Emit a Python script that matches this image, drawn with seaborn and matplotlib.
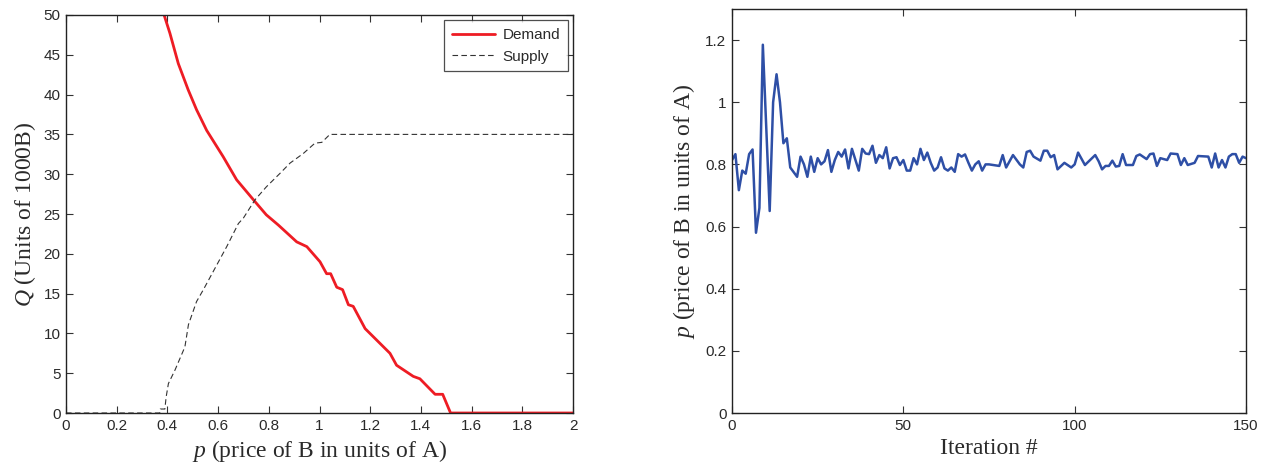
import matplotlib
matplotlib.use("Agg")
import matplotlib.pyplot as plt
import seaborn as sns
import pandas as pd

# ---- data: left panel (market curves) ----
demand_p = [0.387, 0.41, 0.443, 0.482, 0.515, 0.555, 0.62, 0.673, 0.739, 0.79, 0.838,
            0.91, 0.95, 1.002, 1.028, 1.044, 1.068, 1.091, 1.114, 1.133, 1.18, 1.278,
            1.304, 1.37, 1.396, 1.456, 1.486, 1.517, 2.0]
demand_q = [50, 47.7, 43.9, 40.6, 38.1, 35.5, 32.2, 29.3, 26.8, 24.9, 23.6,
            21.5, 20.9, 19.0, 17.5, 17.5, 15.8, 15.5, 13.6, 13.4, 10.6, 7.5,
            6.0, 4.6, 4.3, 2.35, 2.35, 0, 0]
supply_p = [0.0, 0.37, 0.372, 0.39, 0.395, 0.404, 0.43, 0.469, 0.483, 0.515, 0.542,
            0.588, 0.634, 0.68, 0.70, 0.746, 0.79, 0.844, 0.884, 0.936, 0.982, 1.009,
            1.041, 2.0]
supply_q = [0, 0, 0.5, 0.5, 2.0, 3.7, 5.4, 8.3, 11.1, 14.0, 15.5,
            18.2, 20.9, 23.8, 24.5, 26.8, 28.4, 30.1, 31.4, 32.6, 33.9, 34.0,
            35.0, 35.0]

# ---- data: right panel (price over iterations) ----
iters = [0, 1, 2, 3, 4, 5, 6, 7, 8, 9, 11, 12, 13, 14, 15, 16, 17, 19, 20, 21, 22, 23,
         24, 25, 26, 27, 28, 29, 30, 31, 32, 33, 34, 35, 37, 38, 39, 40, 41, 42, 43,
         44, 45, 46, 47, 48, 49, 50, 51, 52, 53, 54, 55, 56, 57, 58, 59, 60, 61, 62,
         63, 64, 65, 66, 67, 68, 69, 70, 71, 72, 73, 74, 75, 78, 79, 80, 82, 84, 85,
         86, 87, 88, 90, 91, 92, 93, 94, 95, 97, 99, 100, 101, 103, 106, 107, 108,
         109, 110, 111, 112, 113, 114, 115, 117, 118, 119, 121, 122, 123, 124, 125,
         127, 128, 130, 131, 132, 133, 135, 136, 139, 140, 141, 142, 143, 144, 145,
         146, 147, 148, 149, 150]
prices = [0.814, 0.833, 0.717, 0.78, 0.77, 0.833, 0.848, 0.58, 0.66, 1.185, 0.65, 1.0,
          1.09, 1.0, 0.868, 0.884, 0.79, 0.76, 0.825, 0.80, 0.76, 0.825, 0.776, 0.82,
          0.80, 0.81, 0.846, 0.776, 0.814, 0.84, 0.825, 0.848, 0.787, 0.85, 0.78, 0.85,
          0.835, 0.833, 0.86, 0.805, 0.83, 0.82, 0.855, 0.787, 0.82, 0.823, 0.798,
          0.814, 0.78, 0.78, 0.82, 0.80, 0.85, 0.814, 0.838, 0.805, 0.78, 0.79, 0.823,
          0.787, 0.78, 0.79, 0.776, 0.833, 0.825, 0.832, 0.805, 0.78, 0.80, 0.81, 0.78,
          0.80, 0.80, 0.795, 0.83, 0.79, 0.83, 0.80, 0.79, 0.84, 0.844, 0.825, 0.812,
          0.844, 0.844, 0.823, 0.83, 0.784, 0.805, 0.79, 0.80, 0.838, 0.798, 0.83,
          0.81, 0.784, 0.795, 0.795, 0.812, 0.793, 0.795, 0.833, 0.798, 0.798, 0.827,
          0.832, 0.817, 0.833, 0.835, 0.795, 0.82, 0.814, 0.835, 0.833, 0.798, 0.82,
          0.798, 0.805, 0.827, 0.825, 0.79, 0.835, 0.79, 0.814, 0.79, 0.825, 0.833,
          0.833, 0.805, 0.825, 0.82]

x_ticks_left = [0, 0.2, 0.4, 0.6, 0.8, 1, 1.2, 1.4, 1.6, 1.8, 2]
x_ticklabels_left = ["0", "0.2", "0.4", "0.6", "0.8", "1", "1.2", "1.4", "1.6", "1.8", "2"]
y_ticks_left = [0, 5, 10, 15, 20, 25, 30, 35, 40, 45, 50]
x_ticks_right = [0, 50, 100, 150]
y_ticks_right = [0, 0.2, 0.4, 0.6, 0.8, 1.0, 1.2]
y_ticklabels_right = ["0", "0.2", "0.4", "0.6", "0.8", "1", "1.2"]

TXT = "#2a2a2a"

sns.set_style("ticks")
plt.rcParams["font.family"] = ["Liberation Sans", "DejaVu Sans"]
plt.rcParams["xtick.direction"] = "in"
plt.rcParams["ytick.direction"] = "in"
plt.rcParams["mathtext.fontset"] = "custom"
plt.rcParams["mathtext.it"] = "Liberation Serif:italic"
plt.rcParams["mathtext.rm"] = "Liberation Serif"

fig = plt.figure(figsize=(12.63, 4.69), dpi=100)
ax1 = fig.add_axes([66 / 1263, 56 / 469, 507 / 1263, 398 / 469])
ax2 = fig.add_axes([732 / 1263, 56 / 469, 514 / 1263, 404 / 469])

df_d = pd.DataFrame({"p": demand_p, "Q": demand_q})
df_s = pd.DataFrame({"p": supply_p, "Q": supply_q})
sns.lineplot(data=df_d, x="p", y="Q", ax=ax1, color="#ee1c24", lw=2.0,
             estimator=None, sort=False, label="Demand")
sns.lineplot(data=df_s, x="p", y="Q", ax=ax1, color="#333333", lw=0.8,
             estimator=None, sort=False, label="Supply", linestyle=(0, (5, 3)))

ax1.set_xlim(0, 2)
ax1.set_ylim(0, 50)
ax1.set_xticks(x_ticks_left)
ax1.set_xticklabels(x_ticklabels_left)
ax1.set_yticks(y_ticks_left)
serif = {"family": "Liberation Serif", "size": 17, "color": TXT}
ax1.set_xlabel(r"$p$ (price of B in units of A)", fontdict=serif, labelpad=4)
ax1.set_ylabel(r"$Q$ (Units of 1000B)", fontdict=serif, labelpad=4)
leg = ax1.legend(loc="upper right", fontsize=11, frameon=True, fancybox=False,
                 edgecolor="#222222", borderaxespad=0.35, handlelength=2.8,
                 handletextpad=0.5, labelcolor=TXT, borderpad=0.5)
leg.get_frame().set_linewidth(0.9)

df_r = pd.DataFrame({"it": iters, "p": prices})
sns.lineplot(data=df_r, x="it", y="p", ax=ax2, color="#2e4fa6", lw=1.8,
             estimator=None, sort=False)
ax2.set_xlim(0, 150)
ax2.set_ylim(0, 1.3)
ax2.set_xticks(x_ticks_right)
ax2.set_yticks(y_ticks_right)
ax2.set_yticklabels(y_ticklabels_right)
ax2.set_xlabel("Iteration #", fontdict=serif, labelpad=4)
ax2.set_ylabel(r"$p$ (price of B in units of A)", fontdict=serif, labelpad=6)

for ax in (ax1, ax2):
    ax.tick_params(axis="both", which="both", labelsize=11, top=True, right=True,
                   length=5, width=0.8, color="#333333", labelcolor=TXT, pad=4)
    for s in ax.spines.values():
        s.set_linewidth(1.0)
        s.set_color("#222222")
        s.set_visible(True)

fig.savefig("out.png", dpi=100)
